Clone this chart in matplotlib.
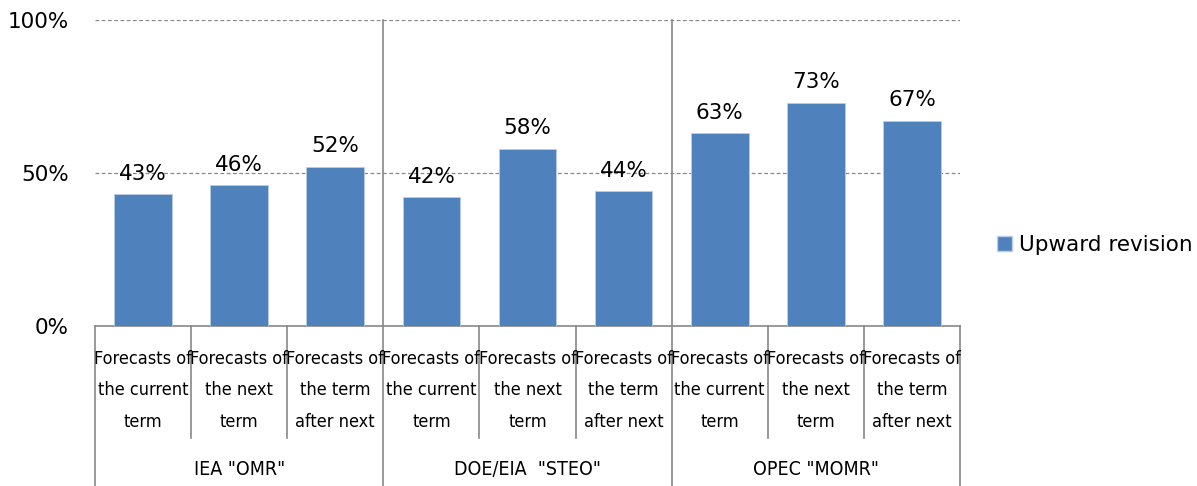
import matplotlib
matplotlib.use('Agg')
import matplotlib.pyplot as plt
import matplotlib.transforms as mtransforms
from matplotlib.patches import Patch

# chart data
groups = ['IEA "OMR"', 'DOE/EIA  "STEO"', 'OPEC "MOMR"']
categories = ['Forecasts of\nthe current\nterm',
              'Forecasts of\nthe next\nterm',
              'Forecasts of\nthe term\nafter next']
upward = [43, 46, 52, 42, 58, 44, 63, 73, 67]
yticks = [0, 50, 100]
series_name = 'Upward revision'

bar_color = '#4F81BD'

W, H = 1197, 486
fig = plt.figure(figsize=(W / 100, H / 100), dpi=100)
ax = fig.add_axes([95 / W, (H - 326) / H, (960 - 95) / W, (326 - 20) / H])

n = len(upward)
xs = list(range(n))
ax.bar(xs, upward, width=0.6, color=bar_color, edgecolor='#B9CDE5', linewidth=0.6, zorder=3)

for x, v in zip(xs, upward):
    ax.text(x, v + 3.5, f'{v}%', ha='center', va='bottom', fontsize=15.5, color='black')

ax.set_xlim(-0.5, n - 0.5)
ax.set_ylim(0, 100)
ax.set_yticks(yticks)
ax.set_yticklabels([f'{t}%' for t in yticks], fontsize=15.5)
ax.tick_params(axis='y', length=0, pad=19)
ax.set_xticks([])
for t in yticks[1:]:
    ax.axhline(t, color='#888888', lw=0.9, ls=(0, (3, 2)), zorder=1)

for s in ['top', 'right', 'left']:
    ax.spines[s].set_visible(False)
ax.spines['bottom'].set_color('#888888')
ax.spines['bottom'].set_linewidth(1.2)

# separator lines below the axis and between the groups
trans = mtransforms.blended_transform_factory(ax.transData, ax.transAxes)
bottom = -160 / 306
tick_end = -112 / 306
per_group = len(categories)
for i in range(n + 1):
    xb = i - 0.5
    if i % per_group == 0:
        top = 1.0 if 0 < i < n else 0.0
        ax.plot([xb, xb], [top, bottom], transform=trans, color='#888888', lw=1.2, clip_on=False)
    else:
        ax.plot([xb, xb], [0, tick_end], transform=trans, color='#888888', lw=1.2, clip_on=False)

for i, x in enumerate(xs):
    ax.text(x, -0.21, categories[i % per_group], transform=trans, ha='center', va='center',
            fontsize=13, fontstretch='condensed', linespacing=1.95)

for g, name in enumerate(groups):
    xc = g * per_group + (per_group - 1) / 2
    ax.text(xc, -0.47, name, transform=trans, ha='center', va='center', fontsize=14,
            fontstretch='condensed')

ax.legend(handles=[Patch(facecolor=bar_color, edgecolor='#B9CDE5')], labels=[series_name],
          loc='center left', bbox_to_anchor=(978 / W, (H - 245) / H), bbox_transform=fig.transFigure,
          frameon=False, fontsize=15.5, handlelength=0.7, handleheight=0.7, handletextpad=0.3)

fig.savefig('out.png', dpi=100)
